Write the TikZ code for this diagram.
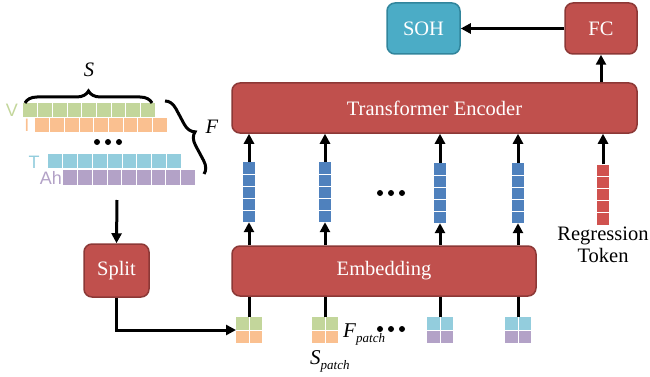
\documentclass[tikz,border=0pt]{standalone}
\usepackage{fontspec}
\setmainfont{Liberation Serif}
\newfontfamily\lsans{Liberation Sans}
\usetikzlibrary{arrows.meta,decorations.pathreplacing}
\definecolor{boxred}{HTML}{C0504D}
\definecolor{boxredline}{HTML}{8C3836}
\definecolor{boxteal}{HTML}{4BACC6}
\definecolor{boxtealline}{HTML}{31859C}
\definecolor{cgreen}{HTML}{C3D69B}
\definecolor{corange}{HTML}{FAC090}
\definecolor{cblue}{HTML}{93CDDD}
\definecolor{cpurple}{HTML}{B3A2C7}
\definecolor{tokblue}{HTML}{4F81BD}
\definecolor{tokred}{HTML}{D0524F}
\tikzset{
  box/.style={draw=boxredline, fill=boxred, line width=1.5pt, rounded corners=8pt, inner sep=0pt,
    text=white, font=\fontsize{20.5}{24}\selectfont},
  tealbox/.style={box, draw=boxtealline, fill=boxteal},
  arr/.style={line width=3pt, -{Triangle[length=10pt,width=10pt]}},
  plain/.style={line width=3pt},
  tok/.style={inner sep=0pt, minimum width=12pt, minimum height=60pt},
  brc/.style={decorate, line width=3pt},
  lbl/.style={font=\fontsize{20.5}{24}\selectfont},
  side/.style={font=\lsans\fontsize{18}{18}\selectfont, inner sep=0pt},
}
\newcommand{\mybar}[5]{% x0 y0 x1 y1 color
  \fill[#5] (#1,#2) rectangle (#3,#4);
  \pgfmathsetmacro{\cw}{(#3-#1)/9}
  \foreach \k in {1,...,8}{\draw[white, line width=0.6pt] ({#1+\k*\cw},#2) -- ({#1+\k*\cw},#4);}
}
\newcommand{\mytok}[4]{% name x ycenter color
  \node[tok, fill=#4] (#1) at (#2,#3) {};
  \foreach \k in {1,...,4}{\draw[white, line width=0.5pt] ([yshift=-\k*12pt]#1.north west) -- ([yshift=-\k*12pt]#1.north east);}
}
\newcommand{\mypatch}[4]{% name x(center) topcolor bottomcolor
  \fill[#3] (#2-13,317) rectangle (#2+13,330);
  \fill[#4] (#2-13,330) rectangle (#2+13,343);
  \draw[white, line width=0.6pt] (#2,317) -- (#2,343);
  \draw[white, line width=0.8pt] (#2-13,330) -- (#2+13,330);
  \coordinate (#1) at (#2,330);
  \coordinate (#1n) at (#2,317);
  \coordinate (#1w) at (#2-13,330);
}
\begin{document}
\begin{tikzpicture}[x=1pt,y=-1pt]
\useasboundingbox (0,0) rectangle (650,377);

% main boxes
\node[box, minimum width=405pt, minimum height=50pt] (enc) at (434.5,108) {Transformer Encoder};
\node[box, minimum width=304pt, minimum height=50pt] (emb) at (384,271) {Embedding};
\node[tealbox, minimum width=73pt, minimum height=51pt] (soh) at (423.5,28.5) {SOH};
\node[box, minimum width=72pt, minimum height=51pt] (fc) at (601,28.5) {FC};
\node[box, minimum width=65pt, minimum height=53pt] (split) at (116.5,270.5) {Split};

\draw[arr] (fc.west) -- (soh.east);
\draw[arr] (enc.north -| fc.south) -- (fc.south);

% tokens
\mytok{t1}{249}{192}{tokblue}
\mytok{t2}{325}{192}{tokblue}
\mytok{t3}{440}{193}{tokblue}
\mytok{t4}{518}{193}{tokblue}
\mytok{rt}{603}{194.5}{tokred}

\foreach \t in {t1,t2,t3,t4}{
  \draw[arr] (emb.north -| \t.south) -- (\t.south);
  \draw[arr] (\t.north) -- (enc.south -| \t.north);
}
\draw[arr] (rt.north) -- (enc.south -| rt.north);

\foreach \xx in {380,391,402}{\fill (\xx,193) circle (3pt);}

\node[lbl, align=center, inner sep=0pt, anchor=north] (rl) at ([yshift=-2pt]rt.south) {Regression\\[-2pt]Token};

% patches
\mypatch{p1}{249}{cgreen}{corange}
\mypatch{p2}{325}{cgreen}{corange}
\mypatch{p3}{440}{cblue}{cpurple}
\mypatch{p4}{518}{cblue}{cpurple}
\foreach \p in {p1,p2,p3,p4}{\draw[plain] (emb.south -| \p n) -- (\p n);}
\foreach \xx in {380,391,402}{\fill (\xx,329) circle (3pt);}

\node[anchor=base west, inner sep=0pt] (fp) at (343,337) {{\fontsize{21}{21}\selectfont\textit{F}}{\fontsize{13}{13}\selectfont\raisebox{-5pt}{\textit{patch}}}};
\node[anchor=base west, inner sep=0pt] (sp) at (310,364) {{\fontsize{21}{21}\selectfont\textit{S}}{\fontsize{13}{13}\selectfont\raisebox{-5pt}{\textit{patch}}}};

% split connections
\coordinate (din) at (117,200);
\draw[arr] (din) -- (split.north);
\draw[arr] (split.south) |- (p1w);

% left data
\mybar{23}{103}{155}{117}{cgreen}
\mybar{35}{118}{167}{132}{corange}
\mybar{48}{154}{181}{168}{cblue}
\mybar{63}{170}{195}{185}{cpurple}
\node[side, text=cgreen] (lv) at (12,110) {V};
\node[side, text=corange] (li) at (27,125) {I};
\node[side, text=cblue] (lt) at (34,162) {T};
\node[side, text=cpurple] (la) at (51,178) {Ah};
\foreach \xx in {97,108,119}{\fill (\xx,142) circle (3pt);}

\draw[brc, decoration={brace, amplitude=12pt}] (25,103) -- (152,103);
\node[lbl, inner sep=0pt] (sl) at (89,70) {\textit{S}};
\draw[brc, decoration={brace, amplitude=12pt}] (165,101) -- (204,174);
\node[lbl, inner sep=0pt] (fl) at (212,127) {\textit{F}};
\end{tikzpicture}
\end{document}
